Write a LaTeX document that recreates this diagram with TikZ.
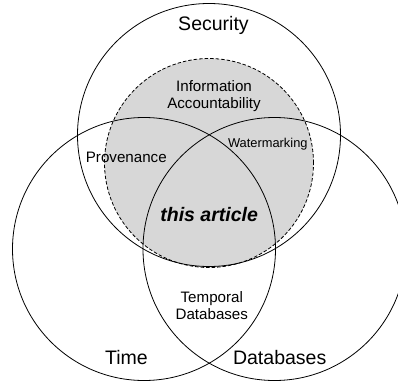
\documentclass[tikz,border=0pt]{standalone}
\usepackage{fontspec}
\setmainfont{Liberation Sans}
\definecolor{shade}{RGB}{215,215,215}
\tikzset{
  ring/.style={circle, draw, line width=0.8bp, inner sep=0pt, minimum size=263bp},
  focusring/.style={circle, inner sep=0pt, minimum size=209bp},
  biglabel/.style={font=\fontsize{19.6}{22}\selectfont, inner sep=0pt, anchor=base},
  midlabel/.style={font=\fontsize{15.2}{17}\selectfont, inner sep=0pt, anchor=base, align=center},
}
\begin{document}
\begin{tikzpicture}[x=1bp, y=-1bp]
\useasboundingbox (0,0) rectangle (398,383);
% shaded focus area
\node[focusring, fill=shade] (focusfill) at (209,163) {};
% three main circles
\node[ring] (security) at (209,135) {};
\node[ring] (time) at (144,249) {};
\node[ring] (databases) at (274.5,249) {};
% dashed focus circle outline
\node[focusring, draw, line width=0.8bp, dash pattern=on 3.5bp off 2bp] (focus) at (209,163) {};
% labels
\node[biglabel] (lsec) at (213.5,30) {Security};
\node[biglabel] (ltime) at (126.5,364.8) {Time};
\node[biglabel] (ldb) at (279.7,364.8) {Databases};
\node[midlabel] (linfo) at (214,108.3) {Information\\Accountability};
\node[font=\fontsize{12.9}{15}\selectfont, inner sep=0pt, anchor=base] (lwater) at (267.8,147.4) {Watermarking};
\node[midlabel] (lprov) at (126.3,162.5) {Provenance};
\node[font=\fontsize{19.6}{22}\selectfont\bfseries\itshape, inner sep=0pt, anchor=base] (lthis) at (209.2,221.5) {this article};
\node[midlabel] (ltemp) at (211.8,319) {Temporal\\Databases};
\end{tikzpicture}
\end{document}
